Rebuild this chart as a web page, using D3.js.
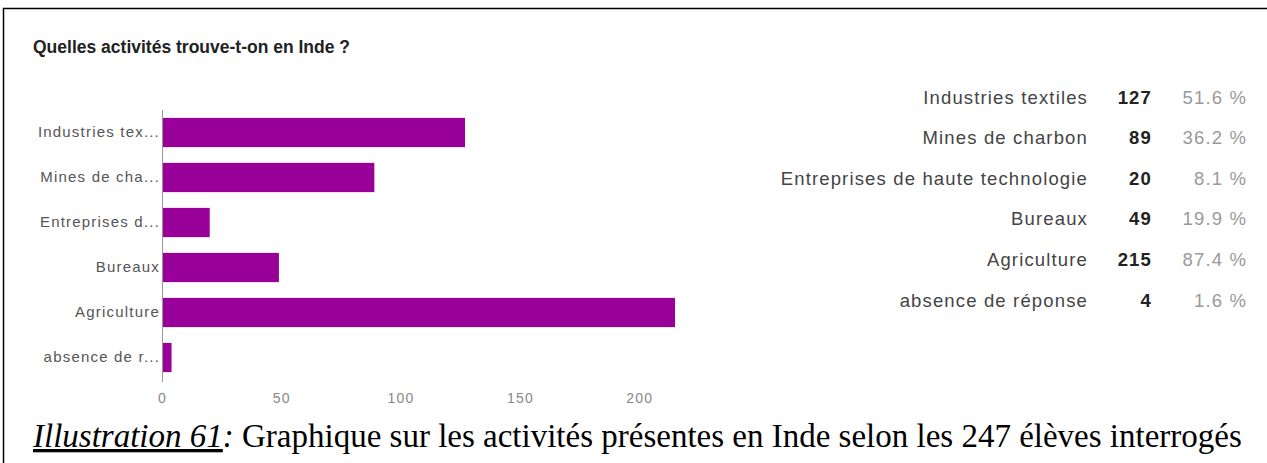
<!DOCTYPE html>
<html>
<head>
<meta charset="utf-8">
<script src="https://cdn.jsdelivr.net/npm/d3@7"></script>
<style>
  body { margin: 0; background: #fff; }
</style>
</head>
<body>
<div id="wrapper"></div>
<script>
// data
const categories = ["Industries textiles", "Mines de charbon", "Entreprises de haute technologie", "Bureaux", "Agriculture", "absence de réponse"];
const shortLabels = ["Industries tex...", "Mines de cha...", "Entreprises d...", "Bureaux", "Agriculture", "absence de r..."];
const counts = [127, 89, 20, 49, 215, 4];
const percents = ["51.6 %", "36.2 %", "8.1 %", "19.9 %", "87.4 %", "1.6 %"];
const xTicks = [0, 50, 100, 150, 200];

const width = 1267, height = 463;
const sans = "Liberation Sans, Arial, sans-serif";

const svg = d3.select("#wrapper")
  .append("svg")
  .attr("width", width)
  .attr("height", height);

// frame of the illustration (left and top edges only)
svg.append("path")
  .attr("d", `M3.5,${height} L3.5,8.5 L${width},8.5`)
  .attr("fill", "none")
  .attr("stroke", "#000")
  .attr("stroke-width", 1.5);

svg.append("text")
  .attr("x", 33)
  .attr("y", 53)
  .attr("font-family", sans)
  .attr("font-weight", "bold")
  .attr("font-size", 17.5)
  .attr("fill", "#222")
  .text("Quelles activités trouve-t-on en Inde ?");

// bar chart bounds
const bounds = { left: 162, top: 110, width: 513, height: 270 };

const xScale = d3.scaleLinear()
  .domain([0, 215])
  .range([bounds.left, bounds.left + bounds.width]);

const yScale = d3.scaleBand()
  .domain(categories)
  .range([bounds.top, bounds.top + bounds.height])
  .paddingInner(0.35)
  .paddingOuter(0.175);

svg.append("g")
  .selectAll("rect")
  .data(categories)
  .join("rect")
  .attr("x", xScale(0))
  .attr("y", d => yScale(d))
  .attr("width", (d, i) => xScale(counts[i]) - xScale(0))
  .attr("height", yScale.bandwidth())
  .attr("fill", "#990099");

// vertical baseline
svg.append("line")
  .attr("x1", xScale(0) + 0.5).attr("x2", xScale(0) + 0.5)
  .attr("y1", bounds.top).attr("y2", bounds.top + bounds.height + 2)
  .attr("stroke", "#999");

// y labels
const yAxis = svg.append("g")
  .attr("transform", `translate(${xScale(0) - 3},0)`)
  .call(d3.axisLeft(yScale).tickSize(0).tickPadding(0).tickFormat((d, i) => shortLabels[i]));
yAxis.select(".domain").remove();
yAxis.selectAll("text")
  .attr("dx", 1)
  .attr("font-family", sans)
  .attr("font-size", 15)
  .attr("letter-spacing", 1.2)
  .attr("fill", "#555");

// x tick labels
const xAxis = svg.append("g")
  .attr("transform", `translate(0,${bounds.top + bounds.height + 8})`)
  .call(d3.axisBottom(xScale).tickValues(xTicks).tickSize(0).tickPadding(5));
xAxis.select(".domain").remove();
xAxis.selectAll("text")
  .attr("font-family", sans)
  .attr("font-size", 14)
  .attr("letter-spacing", 1.2)
  .attr("fill", "#888");

// summary table on the right
const rowY = d3.scalePoint()
  .domain(categories)
  .range([97, 300]);

const table = svg.append("g")
  .attr("font-family", sans)
  .attr("font-size", 18.5)
  .attr("letter-spacing", 1.15)
  .attr("dominant-baseline", "central");

table.selectAll("text.label")
  .data(categories)
  .join("text")
  .attr("class", "label")
  .attr("x", 1088)
  .attr("y", d => rowY(d))
  .attr("text-anchor", "end")
  .attr("fill", "#444")
  .text(d => d);

table.selectAll("text.count")
  .data(categories)
  .join("text")
  .attr("class", "count")
  .attr("x", 1152)
  .attr("y", d => rowY(d))
  .attr("text-anchor", "end")
  .attr("font-weight", "bold")
  .attr("fill", "#222")
  .text((d, i) => counts[i]);

table.selectAll("text.pct")
  .data(categories)
  .join("text")
  .attr("class", "pct")
  .attr("x", 1247)
  .attr("y", d => rowY(d))
  .attr("text-anchor", "end")
  .attr("fill", "#999")
  .text((d, i) => percents[i]);

// caption
const caption = svg.append("text")
  .attr("x", 33)
  .attr("y", 447)
  .attr("font-family", "Liberation Serif, Times New Roman, serif")
  .attr("font-size", 33)
  .attr("fill", "#000");
caption.append("tspan")
  .attr("font-style", "italic")
  .attr("text-decoration", "underline")
  .text("Illustration 61");
caption.append("tspan")
  .attr("font-style", "italic")
  .text(":");
caption.append("tspan")
  .text(" Graphique sur les activités présentes en Inde selon les 247 élèves interrogés");
</script>
</body>
</html>
